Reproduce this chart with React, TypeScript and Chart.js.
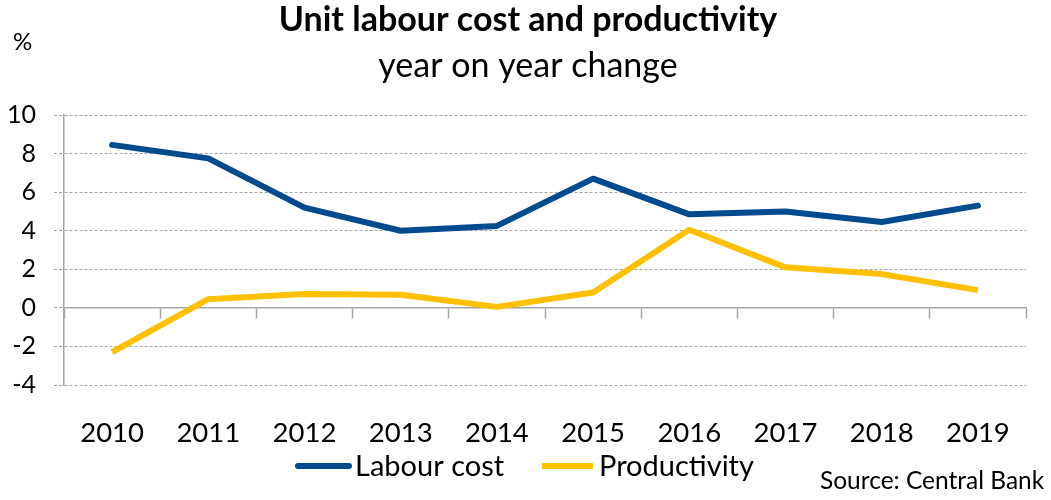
import React, { useEffect, useRef } from "react";
import { Chart, registerables } from "chart.js";

Chart.register(...registerables);

const years = ["2010", "2011", "2012", "2013", "2014", "2015", "2016", "2017", "2018", "2019"];
const labourCost = [8.45, 7.75, 5.2, 4.0, 4.25, 6.7, 4.85, 5.0, 4.45, 5.3];
const productivity = [-2.3, 0.45, 0.72, 0.68, 0.05, 0.8, 4.05, 2.1, 1.75, 0.92];
const yTicks = [-4, -2, 0, 2, 4, 6, 8, 10];

const titleText = "Unit labour cost and productivity";
const subtitleText = "year on year change";
const unitText = "%";
const sourceText = "Source: Central Bank";
const seriesNames = ["Labour cost", "Productivity"];
const seriesColors = ["#004A8D", "#FFC000"];

const FONT = "Lato, 'Open Sans', sans-serif";
const GRID = "#A6A6A6";

const textPlugin = {
  id: "texts",
  afterDraw(chart: any) {
    const ctx = chart.ctx as CanvasRenderingContext2D;
    ctx.save();
    ctx.fillStyle = "#000";
    ctx.textBaseline = "alphabetic";
    ctx.textAlign = "center";
    ctx.font = `bold 34px ${FONT}`;
    ctx.fillText(titleText, 528, 31);
    ctx.font = `34px ${FONT}`;
    ctx.fillText(subtitleText, 528, 77);
    ctx.textAlign = "left";
    ctx.font = `24px ${FONT}`;
    ctx.fillText(unitText, 13, 50);
    ctx.font = `24.5px ${FONT}`;
    ctx.fillText(sourceText, 820, 489);

    // legend
    ctx.font = `29px ${FONT}`;
    const ly = 466;
    const items = [
      { x: 298, name: seriesNames[0], color: seriesColors[0] },
      { x: 542, name: seriesNames[1], color: seriesColors[1] },
    ];
    items.forEach((it) => {
      ctx.strokeStyle = it.color;
      ctx.lineWidth = 6;
      ctx.lineCap = it.color === seriesColors[0] ? "round" : "butt";
      ctx.beginPath();
      ctx.moveTo(it.x, ly);
      ctx.lineTo(it.x + 51, ly);
      ctx.stroke();
      ctx.textBaseline = "middle";
      ctx.fillText(it.name, it.x + 57, ly + 1);
    });
    ctx.restore();
  },
};

export default function App() {
  const ref = useRef<HTMLCanvasElement>(null);
  useEffect(() => {
    if (!ref.current) return;
    const chart = new Chart(ref.current, {
      type: "line",
      data: {
        labels: years,
        datasets: [
          {
            label: seriesNames[0],
            data: labourCost,
            borderColor: seriesColors[0],
            backgroundColor: seriesColors[0],
            borderWidth: 6,
            pointRadius: 0,
            borderCapStyle: "round",
            borderJoinStyle: "round",
            tension: 0,
            xAxisID: "x",
          },
          {
            label: seriesNames[1],
            data: productivity,
            borderColor: seriesColors[1],
            backgroundColor: seriesColors[1],
            borderWidth: 6,
            pointRadius: 0,
            borderCapStyle: "butt",
            borderJoinStyle: "round",
            tension: 0,
            xAxisID: "x",
          },
        ],
      },
      plugins: [textPlugin],
      options: {
        animation: false,
        responsive: false,
        maintainAspectRatio: false,
        layout: { padding: { left: 0, right: 25, top: 115, bottom: 55 } },
        plugins: {
          legend: { display: false },
          title: { display: false },
          tooltip: { enabled: false },
        },
        scales: {
          x: {
            type: "category",
            position: "bottom",
            offset: true,
            grid: { display: false },
            border: { display: false },
            ticks: {
              color: "#000",
              font: { family: FONT, size: 27.5 },
              padding: 24,
              maxRotation: 0,
              autoSkip: false,
            },
            afterFit: (scale: any) => {
              scale.height = 60;
            },
          },
          x0: {
            type: "category",
            position: { y: 0 },
            offset: true,
            grid: {
              display: true,
              offset: true,
              drawOnChartArea: false,
              drawTicks: true,
              tickLength: 10,
              tickColor: GRID,
              tickWidth: 1.5,
            },
            border: { display: true, color: GRID, width: 1.5 },
            ticks: { display: false },
          },
          y: {
            min: -4,
            max: 10,
            afterBuildTicks: (scale: any) => {
              scale.ticks = yTicks.map((v) => ({ value: v }));
            },
            grid: {
              color: GRID,
              lineWidth: 1,
              tickLength: 10,
              tickColor: GRID,
              tickBorderDash: [3, 2],
            },
            border: { display: true, color: GRID, width: 1.5, dash: [3, 2] },
            ticks: {
              color: "#000",
              font: { family: FONT, size: 25 },
              padding: 18,
            },
            afterFit: (scale: any) => {
              scale.width = 64;
            },
          },
        },
      },
    } as any);
    return () => chart.destroy();
  }, []);
  return (
    <div style={{ position: "absolute", left: 0, top: 0, width: 1051, height: 500, background: "#fff" }}>
      <canvas ref={ref} width={1051} height={500} style={{ display: "block" }} />
    </div>
  );
}
